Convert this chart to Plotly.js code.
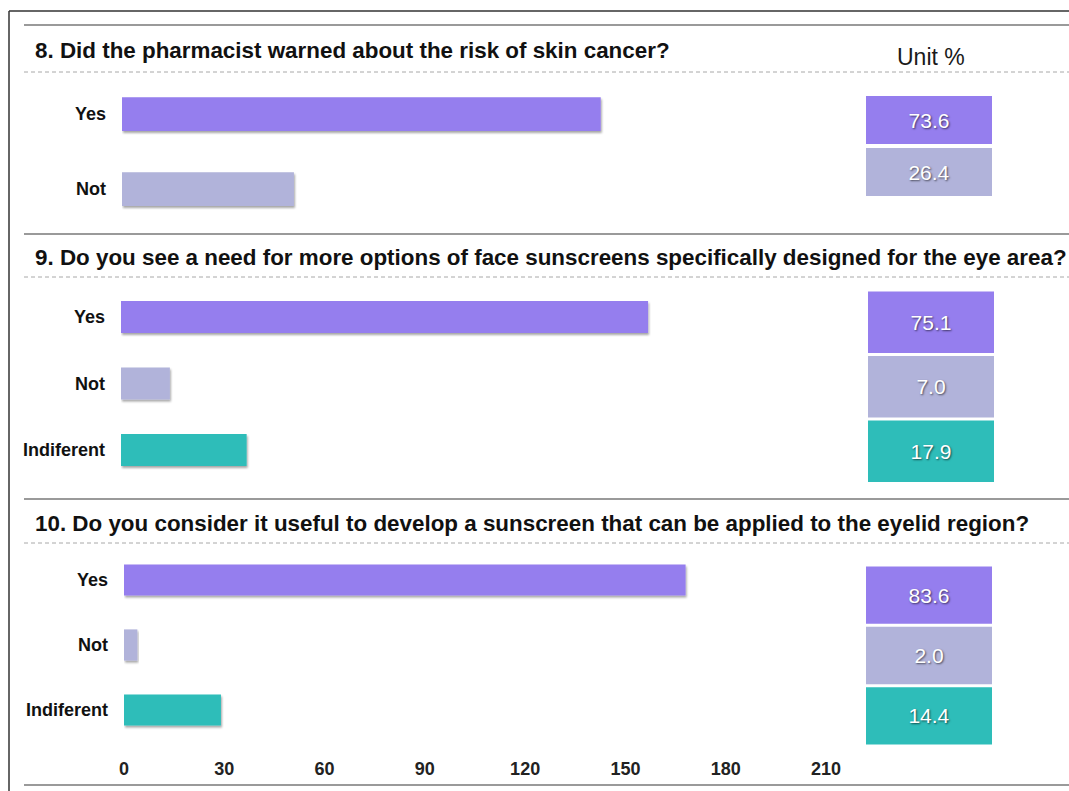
<!DOCTYPE html>
<html>
<head>
<meta charset="utf-8">
<script src="https://cdn.plot.ly/plotly-3.0.1.min.js"></script>
<style>
  html, body { margin: 0; padding: 0; background: #fff; }
  #chart { width: 1069px; height: 791px; }
</style>
</head>
<body>
<div id="chart"></div>
<script>
// Survey answers: respondent counts (bars) and shares in % (table on the right)
const questions = [
  '8. Did the pharmacist warned about the risk of skin cancer?',
  '9. Do you see a need for more options of face sunscreens specifically designed for the eye area?',
  '10. Do you consider it useful to develop a sunscreen that can be applied to the eyelid region?'
];
const answers2 = ['Yes', 'Not'];
const answers3 = ['Yes', 'Not', 'Indiferent'];

const counts8 = [142, 51];
const pct8 = [73.6, 26.4];

const counts9 = [151, 14, 36];
const pct9 = [75.1, 7.0, 17.9];

const counts10 = [168, 4, 29];
const pct10 = [83.6, 2.0, 14.4];

const countTicks = [0, 30, 60, 90, 120, 150, 180, 210];
const unitLabel = 'Unit %';

const answerColors = { 'Yes': '#957EEE', 'Not': '#B1B3DA', 'Indiferent': '#2EBDB9' };

const W = 1069, H = 791;
const fx = p => p / W;
const fy = p => 1 - p / H;
const FONT = 'Liberation Sans, Arial, Helvetica, sans-serif';

function countBars(cats, vals, xa, ya, w) {
  return {
    type: 'bar', orientation: 'h',
    y: cats, x: vals,
    xaxis: xa, yaxis: ya,
    width: w,
    marker: { color: cats.map(c => answerColors[c]), line: { width: 0 } },
    hoverinfo: 'skip', showlegend: false
  };
}

function pctCells(cats, pcts, xa, ya, w) {
  return {
    type: 'bar', orientation: 'h',
    y: cats, x: cats.map(() => 1),
    xaxis: xa, yaxis: ya,
    width: w,
    marker: { color: cats.map(c => answerColors[c]), line: { width: 0 } },
    text: pcts.map(v => v.toFixed(1)),
    textposition: 'inside', insidetextanchor: 'middle', textangle: 0,
    constraintext: 'none',
    textfont: { family: FONT, size: 21, color: '#ffffff', shadow: '1px 1px 2px rgba(0,0,0,0.6)' },
    hoverinfo: 'skip', showlegend: false
  };
}

const data = [
  countBars(answers3, counts10, 'x', 'y', 0.48),
  countBars(answers3, counts9, 'x2', 'y2', 0.48),
  countBars(answers2, counts8, 'x3', 'y3', 0.45),
  pctCells(answers2, pct8, 'x4', 'y4', 0.92),
  pctCells(answers3, pct9, 'x5', 'y5', 0.95),
  pctCells(answers3, pct10, 'x6', 'y6', 0.95)
];

const catTickFont = { family: FONT, size: 18, color: '#111', weight: 'bold' };

function catAxis(domain, showLabels) {
  return {
    domain: domain, type: 'category', autorange: 'reversed',
    showgrid: false, zeroline: false, showline: false,
    showticklabels: showLabels, ticks: '', tickfont: catTickFont,
    ticklabelstandoff: 15, fixedrange: true
  };
}
function hiddenAxis(domain, range) {
  return {
    domain: domain, range: range, visible: false,
    showgrid: false, zeroline: false, fixedrange: true
  };
}

const solidGray = { color: '#9a9a9a', width: 2 };
const dashGray = { color: '#a8a8a8', width: 1, dash: '4px,3px' };
const hLine = (y, line) => ({
  type: 'line', xref: 'paper', yref: 'paper',
  x0: fx(24), x1: 1, y0: fy(y), y1: fy(y), line: line, layer: 'below'
});

const layout = {
  width: W, height: H,
  margin: { l: 0, r: 0, t: 0, b: 0 },
  paper_bgcolor: '#ffffff', plot_bgcolor: 'rgba(0,0,0,0)',
  font: { family: FONT, color: '#111' },
  showlegend: false,
  barmode: 'overlay',

  // Question 10 (visible count axis)
  xaxis: {
    domain: [fx(124), fx(826)], anchor: 'y', range: [0, 210],
    tickmode: 'array', tickvals: countTicks, ticktext: countTicks.map(String),
    showgrid: false, zeroline: false, showline: false,
    ticks: 'outside', ticklen: 10, tickcolor: 'rgba(0,0,0,0)',
    tickfont: { family: FONT, size: 18, color: '#222', weight: 'bold' },
    fixedrange: true
  },
  yaxis: Object.assign(catAxis([fy(742.5), fy(547.5)], true), { anchor: 'x' }),

  // Question 9
  xaxis2: Object.assign(hiddenAxis([fx(121), fx(854)], [0, 210]), { anchor: 'y2' }),
  yaxis2: Object.assign(catAxis([fy(483.25), fy(283.75)], true), { anchor: 'x2' }),

  // Question 8
  xaxis3: Object.assign(hiddenAxis([fx(122), fx(830)], [0, 210]), { anchor: 'y3' }),
  yaxis3: Object.assign(catAxis([fy(226.5), fy(76.5)], true), { anchor: 'x3' }),

  // Percentage tables
  xaxis4: Object.assign(hiddenAxis([fx(866), fx(992)], [0, 1]), { anchor: 'y4' }),
  yaxis4: Object.assign(catAxis([fy(198), fy(94)], false), { anchor: 'x4', visible: false }),
  xaxis5: Object.assign(hiddenAxis([fx(868), fx(994)], [0, 1]), { anchor: 'y5' }),
  yaxis5: Object.assign(catAxis([fy(483.5), fy(290)], false), { anchor: 'x5', visible: false }),
  xaxis6: Object.assign(hiddenAxis([fx(866), fx(992)], [0, 1]), { anchor: 'y6' }),
  yaxis6: Object.assign(catAxis([fy(746), fy(565)], false), { anchor: 'x6', visible: false }),

  shapes: [
    // outer frame (top and left edges)
    { type: 'line', xref: 'paper', yref: 'paper', x0: fx(9), x1: 1, y0: fy(11), y1: fy(11), line: { color: '#333', width: 1.5 } },
    { type: 'line', xref: 'paper', yref: 'paper', x0: fx(9), x1: fx(9), y0: fy(11), y1: 0, line: { color: '#333', width: 1.5 } },
    // panel separators
    hLine(25, solidGray), hLine(234, solidGray), hLine(499, solidGray), hLine(785, solidGray),
    // dashed rules under the questions
    hLine(72, dashGray), hLine(277, dashGray), hLine(543, dashGray)
  ],

  annotations: [
    { text: questions[0], x: fx(33), y: fy(50) },
    { text: questions[1], x: fx(33), y: fy(257) },
    { text: questions[2], x: fx(33), y: fy(523) }
  ].map(a => Object.assign(a, {
    xref: 'paper', yref: 'paper', xanchor: 'left', yanchor: 'middle',
    showarrow: false, font: { family: FONT, size: 22.4, color: '#111', weight: 'bold' }
  })).concat([{
    text: unitLabel, x: fx(931), y: fy(57), xref: 'paper', yref: 'paper',
    xanchor: 'center', yanchor: 'middle', showarrow: false,
    font: { family: FONT, size: 23, color: '#1a1a1a' }
  }])
};

Plotly.newPlot('chart', data, layout, { staticPlot: true, displayModeBar: false }).then(gd => {
  // soft drop shadow under the count bars
  const svg = gd.querySelector('svg.main-svg');
  const ns = 'http://www.w3.org/2000/svg';
  let defs = svg.querySelector('defs');
  if (!defs) { defs = document.createElementNS(ns, 'defs'); svg.insertBefore(defs, svg.firstChild); }
  const filter = document.createElementNS(ns, 'filter');
  filter.setAttribute('id', 'barShadow');
  filter.setAttribute('x', '-5%'); filter.setAttribute('y', '-20%');
  filter.setAttribute('width', '115%'); filter.setAttribute('height', '150%');
  const ds = document.createElementNS(ns, 'feDropShadow');
  ds.setAttribute('dx', '1'); ds.setAttribute('dy', '2');
  ds.setAttribute('stdDeviation', '1.2');
  ds.setAttribute('flood-color', '#000'); ds.setAttribute('flood-opacity', '0.35');
  filter.appendChild(ds);
  defs.appendChild(filter);
  gd.querySelectorAll('.barlayer .trace').forEach((tr, i) => {
    if (i < 3) tr.querySelectorAll('.point path').forEach(p => p.setAttribute('filter', 'url(#barShadow)'));
  });
});
</script>
</body>
</html>
